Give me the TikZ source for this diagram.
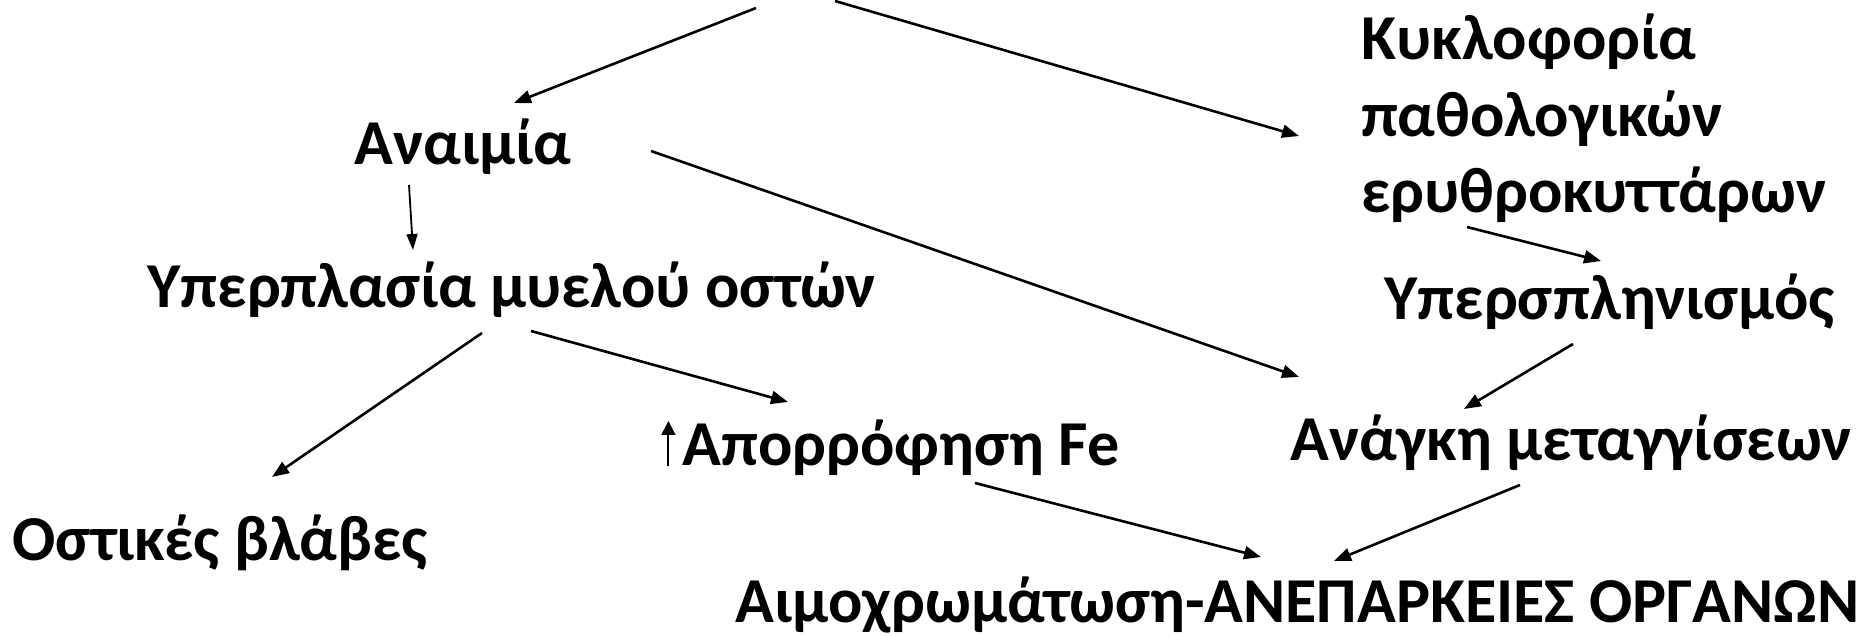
\documentclass[tikz,border=0pt]{standalone}
\usepackage{fontspec}
\setmainfont{Carlito}
\usetikzlibrary{arrows.meta,calc}
\tikzset{
  lbl/.style={anchor=base west,inner sep=0pt,font=\bfseries\fontsize{32pt}{38.3pt}\selectfont,align=left},
  arr/.style={line width=1.3pt,-{Triangle[length=8.5pt,width=6.5pt]}},
  thinarr/.style={line width=0.9pt,-{Triangle[length=8pt,width=5.5pt]}}
}
\begin{document}
\begin{tikzpicture}[x=0.5pt,y=-0.5pt]
\useasboundingbox (0,0) rectangle (1860,636);
\node[lbl] (anai) at (354,165) {Αναιμία};
\node[lbl] (hyper) at (147,308) {Υπερπλασία μυελού οστών};
\node[lbl] (ostik) at (12,560) {Οστικές βλάβες};
\node[lbl] (apor) at (661,466) {\tikz[baseline=0pt]\draw[line width=1pt,-{Triangle[length=7pt,width=7pt]}] (0,0)--(0,22.5pt);\hspace{3.5pt}Απορρόφηση Fe};
\node[lbl] (kykl) at (1361,213) {Κυκλοφορία\\παθολογικών\\ερυθροκυττάρων};
\node[lbl] (ypers) at (1384,320) {Υπερσπληνισμός};
\node[lbl] (anag) at (1290,460) {Ανάγκη μεταγγίσεων};
\node[lbl] (aimo) at (735,622) {Αιμοχρωμάτωση-ΑΝΕΠΑΡΚΕΙΕΣ ΟΡΓΑΝΩΝ};
\coordinate (top1) at (756,8);
\coordinate (top2) at (835,1);
\draw[arr] (top1) -- ($(anai.base west)+(160,-62)$);
\draw[arr] (top2) -- ($(kykl.base west)+(-62,-77)$);
\draw[thinarr] ($(anai.base west)+(55,20)$) -- ($(hyper.base west)+(266,-58)$);
\draw[arr] ($(anai.base west)+(297,-14)$) -- ($(anag.base west)+(9,-83)$);
\draw[arr] ($(kykl.base west)+(106,14)$) -- ($(ypers.base west)+(217,-59)$);
\draw[arr] ($(hyper.base west)+(335,25)$) -- ($(ostik.base west)+(260,-83)$);
\draw[arr] ($(hyper.base west)+(384,23)$) -- ($(apor.base west)+(127,-64)$);
\draw[arr] ($(ypers.base west)+(189,24)$) -- ($(anag.base west)+(174,-51)$);
\draw[arr] ($(apor.base west)+(314,17)$) -- ($(aimo.base west)+(526,-65)$);
\draw[arr] ($(anag.base west)+(230,25)$) -- ($(aimo.base west)+(599,-61)$);
\end{tikzpicture}
\end{document}
